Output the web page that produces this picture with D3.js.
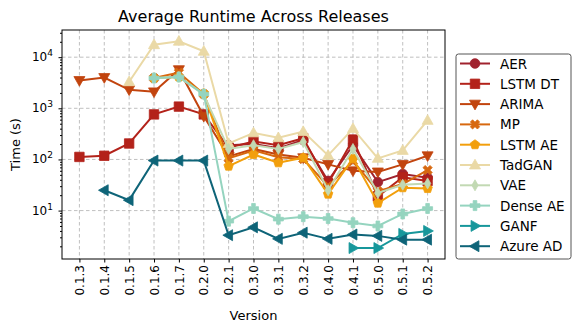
<!DOCTYPE html>
<html>
<head>
<meta charset="utf-8">
<script src="https://cdn.jsdelivr.net/npm/d3@7"></script>
<style>
  body { margin: 0; background: #fff; }
  text { font-family: "DejaVu Sans", sans-serif; fill: #000; }
</style>
</head>
<body>
<div id="chart"></div>
<script>
var versions = ["0.1.3","0.1.4","0.1.5","0.1.6","0.1.7","0.2.0","0.2.1","0.3.0","0.3.1","0.3.2","0.4.0","0.4.1","0.5.0","0.5.1","0.5.2"];

var seriesNames = ["AER","LSTM DT","ARIMA","MP","LSTM AE","TadGAN","VAE","Dense AE","GANF","Azure AD"];
var seriesColors = ["#a0222e","#b3221a","#c2440e","#d7680f","#f29f0c","#ead9a6","#c2d9b3","#95d4bf","#17979b","#0e6478"];
var seriesMarkers = ["circle","square","down","x","pentagon","up","diamond","plus","right","left"];

var aer     = [null,null,null,null,null,null,190,200,165,240,38,190,36,52,44];
var lstmDt  = [112,118,205,760,1080,760,170,225,190,260,34,245,19,45,38];
var arima   = [3500,4000,2300,2100,5700,700,115,160,125,108,80,60,57,80,118];
var mp      = [null,null,null,3900,5000,1900,105,150,110,102,30,93,24,33,62];
var lstmAe  = [null,null,null,3900,4100,1950,74,125,86,108,21,105,14,28,27];
var tadgan  = [null,null,3300,17500,20500,13000,205,330,265,350,120,400,105,150,580];
var vae     = [null,null,null,3900,4100,1850,160,190,160,220,25,160,22,32,34];
var denseAe = [null,null,null,3900,4100,1900,6.2,11,6.8,7.6,7,5.8,5,8.6,11];
var ganf    = [null,null,null,null,null,null,null,null,null,null,null,1.85,1.85,3.5,4];
var azureAd = [null,25,16,95,95,95,3.3,4.7,2.8,3.7,2.8,3.4,3.2,2.7,2.7];

var seriesValues = [aer,lstmDt,arima,mp,lstmAe,tadgan,vae,denseAe,ganf,azureAd];
var yTicks = [10,100,1000,10000];
var tickExp = ["1","2","3","4"];

var width = 581, height = 332;
var plot = {left: 62, right: 445, top: 30, bottom: 259};

var svg = d3.select("#chart").append("svg")
  .attr("width", width).attr("height", height);

var xScale = d3.scalePoint()
  .domain(versions)
  .range([plot.left, plot.right])
  .padding(0.7);

var yScale = d3.scaleLog()
  .domain([1.13, 34000])
  .range([plot.bottom, plot.top]);

// grid
svg.append("g").selectAll("line.vg").data(versions).enter().append("line")
  .attr("x1", d => xScale(d)).attr("x2", d => xScale(d))
  .attr("y1", plot.top).attr("y2", plot.bottom)
  .attr("stroke", "#b0b0b0").attr("stroke-width", 0.8).attr("stroke-dasharray", "3.5,2.5");
svg.append("g").selectAll("line.hg").data(yTicks).enter().append("line")
  .attr("x1", plot.left).attr("x2", plot.right)
  .attr("y1", d => yScale(d)).attr("y2", d => yScale(d))
  .attr("stroke", "#b0b0b0").attr("stroke-width", 0.8).attr("stroke-dasharray", "3.5,2.5");

// marker shapes
function markerPath(type, s) {
  var r = s / 2;
  switch (type) {
    case "circle": return d3.symbol(d3.symbolCircle, Math.PI * r * r * 0.85)();
    case "square": return "M" + (-r*0.9) + "," + (-r*0.9) + "h" + (1.8*r) + "v" + (1.8*r) + "h" + (-1.8*r) + "Z";
    case "up": return "M0," + (-r*1.1) + "L" + (r*1.05) + "," + (r*0.75) + "L" + (-r*1.05) + "," + (r*0.75) + "Z";
    case "down": return "M0," + (r*1.1) + "L" + (r*1.05) + "," + (-r*0.75) + "L" + (-r*1.05) + "," + (-r*0.75) + "Z";
    case "right": return "M" + (r*1.1) + ",0L" + (-r*0.75) + "," + (r*1.05) + "L" + (-r*0.75) + "," + (-r*1.05) + "Z";
    case "left": return "M" + (-r*1.1) + ",0L" + (r*0.75) + "," + (r*1.05) + "L" + (r*0.75) + "," + (-r*1.05) + "Z";
    case "diamond": return "M0," + (-r*1.05) + "L" + (r*0.6) + ",0L0," + (r*1.05) + "L" + (-r*0.6) + ",0Z";
    case "pentagon":
      var p = [];
      for (var i = 0; i < 5; i++) {
        var a = -Math.PI/2 + i * 2*Math.PI/5;
        p.push([r*0.95*Math.cos(a), r*0.95*Math.sin(a)]);
      }
      return "M" + p.map(q => q.join(",")).join("L") + "Z";
    case "plus":
      var t = r*0.35, o = r*0.95;
      return "M" + (-t) + "," + (-o) + "H" + t + "V" + (-t) + "H" + o + "V" + t + "H" + t + "V" + o + "H" + (-t) + "V" + t + "H" + (-o) + "V" + (-t) + "H" + (-t) + "Z";
    case "x":
      var pts = [];
      var w = r*0.3, L = r*0.95;
      // rotated plus
      var base = [[-w,-L],[w,-L],[w,-w],[L,-w],[L,w],[w,w],[w,L],[-w,L],[-w,w],[-L,w],[-L,-w],[-w,-w]];
      var c = Math.cos(Math.PI/4), sn = Math.sin(Math.PI/4);
      base.forEach(q => pts.push([q[0]*c - q[1]*sn, q[0]*sn + q[1]*c]));
      return "M" + pts.map(q => q.join(",")).join("L") + "Z";
  }
}

var line = d3.line()
  .defined(d => d.v != null)
  .x(d => xScale(d.x))
  .y(d => yScale(d.v));

seriesNames.forEach(function(name, i) {
  var pts = versions.map((v, j) => ({x: v, v: seriesValues[i][j]}));
  var g = svg.append("g");
  g.append("path")
    .datum(pts)
    .attr("d", line)
    .attr("fill", "none")
    .attr("stroke", seriesColors[i])
    .attr("stroke-width", 2);
  g.selectAll("path.m").data(pts.filter(d => d.v != null)).enter().append("path")
    .attr("d", markerPath(seriesMarkers[i], 10.5))
    .attr("transform", d => "translate(" + xScale(d.x) + "," + yScale(d.v) + ")")
    .attr("fill", seriesColors[i])
    .attr("stroke", seriesColors[i])
    .attr("stroke-width", 0.8);
});

// frame
svg.append("rect")
  .attr("x", plot.left).attr("y", plot.top)
  .attr("width", plot.right - plot.left).attr("height", plot.bottom - plot.top)
  .attr("fill", "none").attr("stroke", "#000").attr("stroke-width", 1);

// x axis
var xAxis = svg.append("g")
  .attr("transform", "translate(0," + plot.bottom + ")")
  .call(d3.axisBottom(xScale).tickSize(3.5).tickSizeOuter(0));
xAxis.select(".domain").remove();
xAxis.selectAll("text")
  .attr("transform", "rotate(-90)")
  .attr("text-anchor", "end")
  .attr("x", -6).attr("y", 0).attr("dy", "0.35em")
  .style("font-size", "12px")
  .style("font-family", "DejaVu Sans");

// y axis
var yAxis = svg.append("g")
  .attr("transform", "translate(" + plot.left + ",0)")
  .call(d3.axisLeft(yScale).ticks(10).tickFormat("").tickSizeOuter(0));
yAxis.select(".domain").remove();
yAxis.selectAll(".tick line").attr("x2", function(d) {
  return yTicks.indexOf(d) >= 0 ? -3.5 : -2;
});
var yLabs = svg.append("g");
yTicks.forEach(function(t, i) {
  var tx = yLabs.append("text")
    .attr("x", plot.left - 9).attr("y", yScale(t) + 4)
    .attr("text-anchor", "end")
    .style("font-size", "12px");
  tx.append("tspan").text("10");
  tx.append("tspan").attr("dy", -5).style("font-size", "9px").text(tickExp[i]);
});

// labels
svg.append("text")
  .attr("x", (plot.left + plot.right)/2).attr("y", 22)
  .attr("text-anchor", "middle")
  .style("font-size", "16px")
  .text("Average Runtime Across Releases");
svg.append("text")
  .attr("x", (plot.left + plot.right)/2).attr("y", 320)
  .attr("text-anchor", "middle")
  .style("font-size", "13px")
  .text("Version");
svg.append("text")
  .attr("transform", "rotate(-90)")
  .attr("x", -(plot.top + plot.bottom)/2).attr("y", 20)
  .attr("text-anchor", "middle")
  .style("font-size", "13px")
  .text("Time (s)");

// legend
var legend = svg.append("g").attr("transform", "translate(456,54)");
legend.append("rect")
  .attr("width", 115).attr("height", 205).attr("rx", 2.5)
  .attr("fill", "#fff").attr("stroke", "#555").attr("stroke-width", 1);
seriesNames.forEach(function(name, i) {
  var y = 9.5 + i * 20.3;
  var row = legend.append("g").attr("transform", "translate(0," + y + ")");
  row.append("line").attr("x1", 4).attr("x2", 34).attr("y1", 0).attr("y2", 0)
    .attr("stroke", seriesColors[i]).attr("stroke-width", 2);
  row.append("path").attr("d", markerPath(seriesMarkers[i], 10.5))
    .attr("transform", "translate(19,0)")
    .attr("fill", seriesColors[i]).attr("stroke", seriesColors[i]).attr("stroke-width", 0.8);
  row.append("text").attr("x", 44).attr("y", 5)
    .style("font-size", "13.5px").text(name);
});
</script>
</body>
</html>
